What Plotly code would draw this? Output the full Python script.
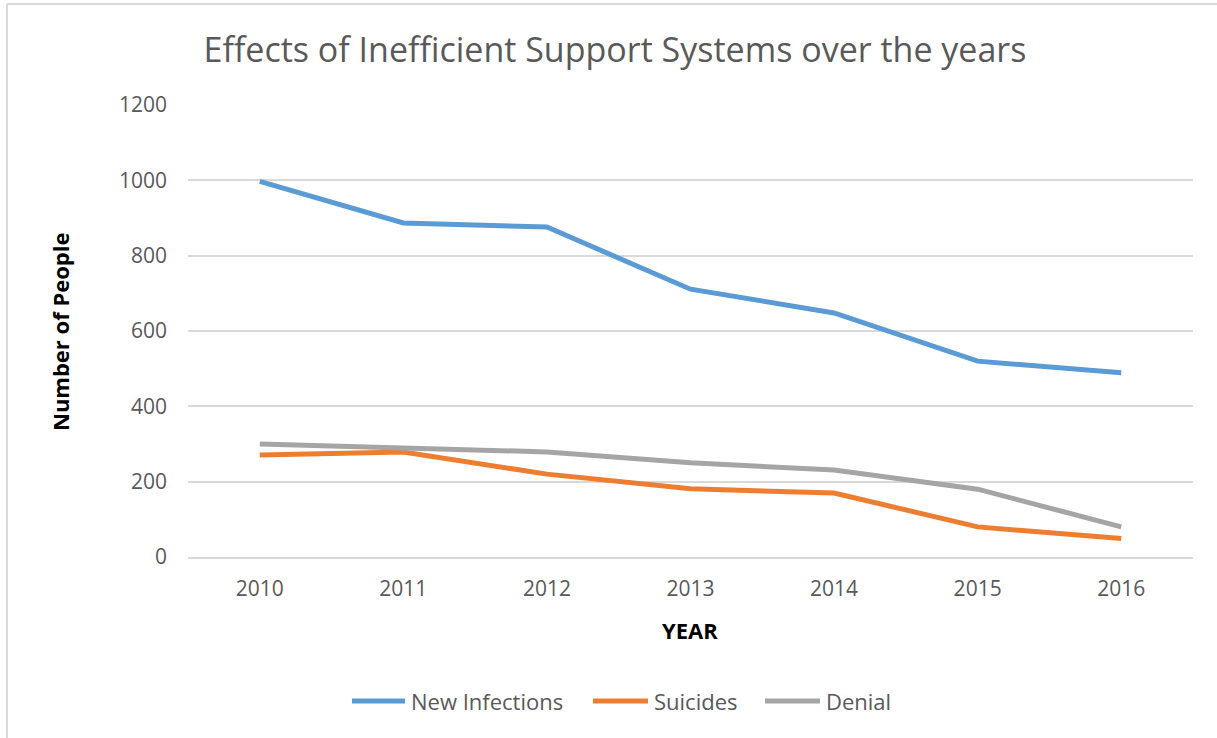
import plotly.graph_objects as go

# Yearly counts per outcome
years = ["2010", "2011", "2012", "2013", "2014", "2015", "2016"]
new_infections = [997, 887, 876, 711, 648, 520, 489]
suicides = [271, 279, 220, 181, 170, 80, 49]
denial = [300, 290, 279, 250, 231, 180, 80]

y_ticks = [0, 200, 400, 600, 800, 1000, 1200]

W, H = 1217, 738
L, R, T, B = 188, 24, 105, 181
pw, ph = W - L - R, H - T - B

series = [
    ("New Infections", new_infections, "#5B9BD5"),
    ("Suicides", suicides, "#ED7D31"),
    ("Denial", denial, "#A5A5A5"),
]

text_color = "#595959"
grid = "#D9D9D9"


def px_x(px):
    return (px - L) / pw


def px_y(py):
    return (H - B - py) / ph


fig = go.Figure()
for name, vals, color in series:
    fig.add_trace(go.Scatter(
        x=years, y=vals, name=name, mode="lines",
        line=dict(color=color, width=5),
    ))

# Legend drawn below the plot: sample line followed by the series name
legend_rows = [(352, 405), (593, 648), (765, 820)]
legend_y = 701
shapes = []
annotations = []
for (x0, x1), (name, _, color) in zip(legend_rows, series):
    shapes.append(dict(type="line", xref="paper", yref="paper",
                       x0=px_x(x0), x1=px_x(x1), y0=px_y(legend_y), y1=px_y(legend_y),
                       line=dict(color=color, width=5)))
    annotations.append(dict(text=name, x=px_x(x1 + 4), y=px_y(legend_y),
                            xref="paper", yref="paper", showarrow=False,
                            xanchor="left", yanchor="middle",
                            font=dict(size=22, color=text_color)))

# Outer chart frame (left and top edges)
frame_x, frame_y = 7, 4
shapes += [
    dict(type="line", xref="paper", yref="paper",
         x0=px_x(frame_x), x1=px_x(frame_x), y0=px_y(H), y1=px_y(frame_y),
         line=dict(color=grid, width=2)),
    dict(type="line", xref="paper", yref="paper",
         x0=px_x(frame_x), x1=px_x(W), y0=px_y(frame_y), y1=px_y(frame_y),
         line=dict(color=grid, width=2)),
]

annotations += [
    dict(text="<b>Number of People</b>", textangle=-90,
         x=px_x(60), y=px_y(332), xref="paper", yref="paper",
         showarrow=False, font=dict(size=22, color="black"),
         xanchor="center", yanchor="middle"),
    dict(text="<b>YEAR</b>", x=px_x(690), y=px_y(630),
         xref="paper", yref="paper", showarrow=False,
         font=dict(size=22, color="black"),
         xanchor="center", yanchor="middle"),
]

fig.update_layout(
    width=W, height=H,
    margin=dict(l=L, r=R, t=T, b=B, autoexpand=False),
    paper_bgcolor="white", plot_bgcolor="white",
    font=dict(family="Open Sans", color=text_color, size=20),
    title=dict(
        text="Effects of Inefficient Support Systems over the years",
        font=dict(family="Open Sans", size=34, color=text_color),
        x=615 / W, xanchor="center", xref="container",
        y=1 - 50 / H, yanchor="middle", yref="container",
    ),
    xaxis=dict(
        type="category", range=[-0.5, len(years) - 0.5], automargin=False,
        showgrid=False, showline=True, linecolor=grid,
        linewidth=1.5, ticks="", tickfont=dict(size=21, color=text_color),
        ticklabelstandoff=12,
    ),
    yaxis=dict(
        range=[0, 1200], tickvals=y_ticks, automargin=False,
        showgrid=True, gridcolor=grid,
        gridwidth=1.5, zeroline=False, showline=False, ticks="",
        tickfont=dict(size=21, color=text_color), ticklabelstandoff=20,
    ),
    showlegend=False,
    annotations=annotations,
    shapes=shapes,
)

fig.write_html("out.html")
